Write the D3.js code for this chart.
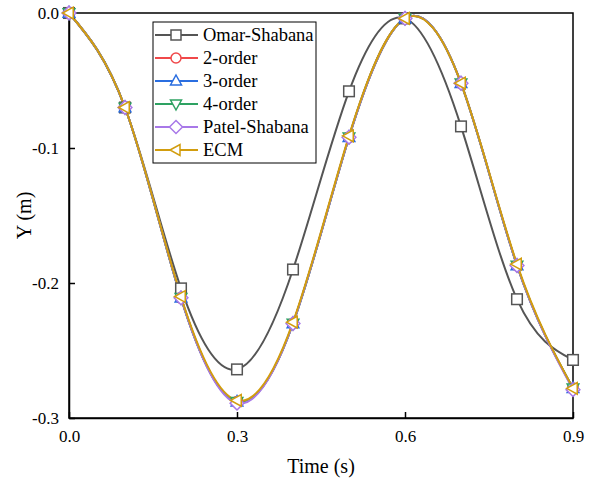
<!DOCTYPE html>
<html>
<head>
<meta charset="utf-8">
<script src="https://cdn.jsdelivr.net/npm/d3@7"></script>
<style>
  body { margin: 0; background: #fff; }
  svg text { font-family: "Liberation Serif", "Times New Roman", serif; fill: #000; }
</style>
</head>
<body>
<svg id="chart" width="589" height="483"></svg>
<script>
// data
const times = [0.0, 0.1, 0.2, 0.3, 0.4, 0.5, 0.6, 0.7, 0.8, 0.9];
const omarShabana = [0, -0.070, -0.204, -0.264, -0.190, -0.058, -0.004, -0.084, -0.212, -0.257];
const order2 = [0, -0.070, -0.211, -0.288, -0.230, -0.092, -0.004, -0.052, -0.187, -0.278];
const order3 = [0, -0.070, -0.211, -0.288, -0.230, -0.092, -0.004, -0.052, -0.187, -0.278];
const order4 = [0, -0.070, -0.211, -0.288, -0.230, -0.092, -0.004, -0.052, -0.187, -0.278];
const patelShabana = [0, -0.070, -0.211, -0.289, -0.230, -0.092, -0.004, -0.052, -0.187, -0.279];
const ecm = [0, -0.070, -0.210, -0.287, -0.229, -0.091, -0.004, -0.052, -0.186, -0.278];

const xTicks = [0.0, 0.3, 0.6, 0.9];
const yTicks = [0.0, -0.1, -0.2, -0.3];

const series = [
  { name: "Omar-Shabana", values: omarShabana, color: "#555555", marker: "square" },
  { name: "2-order", values: order2, color: "#f0484a", marker: "circle" },
  { name: "3-order", values: order3, color: "#2a6ee0", marker: "up" },
  { name: "4-order", values: order4, color: "#2ea262", marker: "down" },
  { name: "Patel-Shabana", values: patelShabana, color: "#a878e8", marker: "diamond" },
  { name: "ECM", values: ecm, color: "#d29d0e", marker: "left" }
];

const svg = d3.select("#chart");
const margin = { top: 13, right: 16, bottom: 65, left: 69 };
const W = 589 - margin.left - margin.right;
const H = 483 - margin.top - margin.bottom;

const g = svg.append("g").attr("transform", `translate(${margin.left},${margin.top})`);

const x = d3.scaleLinear().domain([0, 0.9]).range([0, W]);
const y = d3.scaleLinear().domain([-0.3, 0]).range([H, 0]);

// frame
g.append("rect").attr("x", 0).attr("y", 0).attr("width", W).attr("height", H)
  .attr("fill", "none").attr("stroke", "#000").attr("stroke-width", 1.5);

// plain hyphen minus, as in the original figure
const fmt = d => d3.format(".1f")(d).replace("\u2212", "-");

const xAxis = d3.axisBottom(x).tickValues(xTicks).tickFormat(fmt)
  .tickSizeInner(-6).tickSizeOuter(0).tickPadding(12);
const yAxis = d3.axisLeft(y).tickValues(yTicks).tickFormat(fmt)
  .tickSizeInner(-6).tickSizeOuter(0).tickPadding(10);

const gx = g.append("g").attr("transform", `translate(0,${H})`).call(xAxis);
const gy = g.append("g").call(yAxis);
[gx, gy].forEach(a => {
  a.attr("font-family", null);
  a.select(".domain").attr("stroke-width", 1.5);
  a.selectAll(".tick line").attr("stroke-width", 1.5);
  a.selectAll(".tick text").attr("font-size", 17);
});
gy.selectAll(".tick text").attr("dy", "0.35em");

g.append("text").attr("x", W / 2).attr("y", H + 55).attr("text-anchor", "middle")
  .attr("font-size", 20).text("Time (s)");
g.append("text").attr("transform", "rotate(-90)").attr("x", -H / 2).attr("y", -38)
  .attr("text-anchor", "middle").attr("font-size", 20).text("Y (m)");

// markers
function drawMarker(sel, type, color, s) {
  const st = el => el.attr("fill", "#fff").attr("stroke", color).attr("stroke-width", 1.5);
  if (type === "square") st(sel.append("rect").attr("x", -s).attr("y", -s).attr("width", 2 * s).attr("height", 2 * s));
  else if (type === "circle") st(sel.append("circle").attr("r", s));
  else {
    let pts;
    if (type === "up") pts = [[0, -s * 1.2], [s * 1.1, s * 0.8], [-s * 1.1, s * 0.8]];
    if (type === "down") pts = [[0, s * 1.2], [s * 1.1, -s * 0.8], [-s * 1.1, -s * 0.8]];
    if (type === "left") pts = [[-s * 1.2, 0], [s * 0.8, -s * 1.1], [s * 0.8, s * 1.1]];
    if (type === "diamond") pts = [[0, -s * 1.3], [s * 1.3, 0], [0, s * 1.3], [-s * 1.3, 0]];
    st(sel.append("polygon").attr("points", pts.map(p => p.join(",")).join(" ")));
  }
}

const line = d3.line().x(d => x(d[0])).y(d => y(d[1])).curve(d3.curveNatural);

series.forEach(s => {
  const pts = times.map((t, i) => [t, s.values[i]]);
  g.append("path").datum(pts).attr("d", line).attr("fill", "none")
    .attr("stroke", s.color).attr("stroke-width", 2);
});
series.forEach(s => {
  times.forEach((t, i) => {
    const m = g.append("g").attr("transform", `translate(${x(t)},${y(s.values[i])})`);
    drawMarker(m, s.marker, s.color, 5.3);
  });
});

// legend
const lg = svg.append("g").attr("transform", "translate(153,22)");
lg.append("rect").attr("width", 163).attr("height", 141).attr("fill", "#fff")
  .attr("stroke", "#000").attr("stroke-width", 1);
series.forEach((s, i) => {
  const row = lg.append("g").attr("transform", `translate(0,${13 + i * 23})`);
  row.append("line").attr("x1", 2).attr("x2", 45).attr("stroke", s.color).attr("stroke-width", 2);
  const m = row.append("g").attr("transform", "translate(23,0)");
  drawMarker(m, s.marker, s.color, 5);
  row.append("text").attr("x", 50).attr("dy", "0.35em").attr("font-size", 18.5).text(s.name);
});
</script>
</body>
</html>
